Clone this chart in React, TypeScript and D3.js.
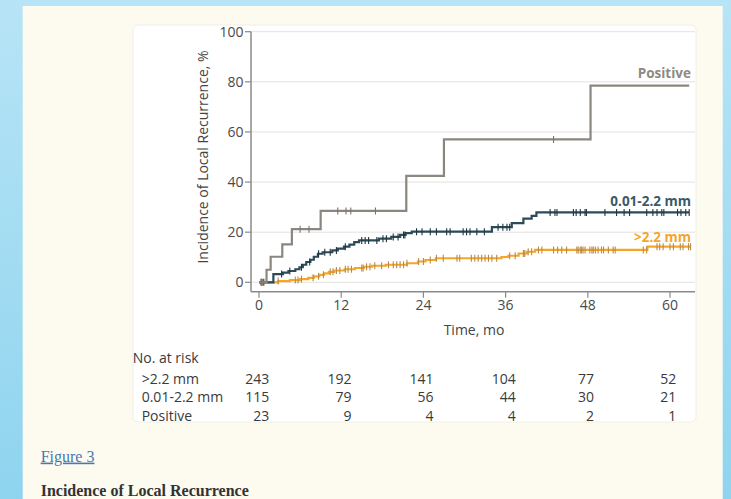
import React from "react";
import * as d3 from "d3";

// Cumulative incidence steps: [month, percent]
const positiveSteps: [number, number][] = [
  [0, 0], [1.1, 5.0], [1.7, 10.2], [3.4, 15.1], [4.8, 21.2], [9.0, 28.5],
  [21.5, 42.5], [27.0, 57.0], [48.4, 78.5], [62.8, 78.5],
];
const midSteps: [number, number][] = [
  [0, 0], [2.1, 3.3], [3.5, 3.9], [4.3, 4.5], [5.3, 5.2], [5.9, 6.0], [6.4, 7.0],
  [6.9, 8.1], [7.5, 9.0], [8.0, 10.2], [8.6, 11.4], [9.3, 12.0], [10.7, 12.7],
  [11.5, 13.4], [12.4, 14.2], [13.2, 15.0], [13.9, 16.0], [14.6, 16.7],
  [17.5, 17.4], [19.3, 18.1], [20.6, 18.9], [21.4, 19.6], [22.3, 20.2],
  [34.0, 22.0], [36.9, 23.6], [38.6, 25.4], [39.8, 26.5], [40.5, 27.9], [62.8, 27.9],
];
const wideSteps: [number, number][] = [
  [0, 0], [2.8, 0.5], [4.5, 0.9], [6.0, 1.3], [7.2, 1.8], [8.0, 2.4], [8.8, 3.0],
  [9.5, 3.6], [10.2, 4.2], [11.0, 4.7], [12.5, 5.2], [14.0, 5.7], [15.3, 6.2],
  [16.5, 6.6], [18.5, 7.0], [21.6, 7.6], [23.2, 8.3], [24.3, 8.9], [25.8, 9.6],
  [35.4, 10.1], [36.4, 10.6], [37.9, 11.5], [39.1, 12.2], [40.3, 12.9],
  [56.7, 14.2], [63.0, 14.2],
];

// Censoring times, months
const positiveCensor = [0.4, 6.0, 7.3, 11.5, 12.7, 13.4, 17.0, 43.0];
const midCensor = [
  0.3, 0.7, 3.3, 4.5, 6.2, 7.4, 8.7, 9.6, 10.4, 11.3, 12.6, 15.0, 15.5, 16.0, 17.2,
  18.1, 18.6, 19.6, 20.3, 21.1, 21.3, 23.0, 23.8, 25.0, 25.9, 27.4, 27.9, 29.8,
  30.3, 30.8, 31.8, 32.9, 34.9, 35.6, 36.2, 36.6, 42.5, 43.2, 43.5, 45.9, 46.3,
  46.9, 47.6, 47.8, 50.5, 52.2, 53.3, 54.1, 56.6, 57.5, 58.1, 58.8, 59.1, 61.1,
  61.6, 62.3, 62.8,
];
const wideCensor = [
  0.5, 2.8, 5.3, 5.7, 6.2, 7.9, 8.7, 9.4, 10.4, 10.8, 11.3, 11.8, 12.6, 13.0, 13.5,
  15.0, 15.2, 15.7, 16.2, 16.9, 17.9, 18.9, 19.6, 20.1, 20.6, 21.1, 21.6, 23.3,
  24.0, 25.0, 25.9, 26.9, 28.9, 29.3, 31.0, 31.5, 32.0, 32.5, 33.0, 33.5, 34.0,
  34.7, 36.6, 37.4, 38.6, 38.8, 39.3, 39.8, 40.8, 41.3, 43.0, 43.6, 44.2, 44.9,
  46.4, 46.6, 46.9, 47.1, 47.3, 47.6, 48.3, 48.6, 48.8, 49.1, 49.5, 50.0, 50.3,
  51.0, 51.7, 52.0, 56.1, 56.6, 58.1, 58.5, 59.0, 60.0, 60.5, 61.5, 61.9, 62.7, 63.0,
];

const xTicks = [0, 12, 24, 36, 48, 60];
const yTicks = [0, 20, 40, 60, 80, 100];

const riskGroups = [">2.2 mm", "0.01-2.2 mm", "Positive"];
const riskWide = [243, 192, 141, 104, 77, 52];
const riskMid = [115, 79, 56, 44, 30, 21];
const riskPositive = [23, 9, 4, 4, 2, 1];

const SANS = "'Open Sans', 'DejaVu Sans', sans-serif";
const SERIF = "'Liberation Serif', 'DejaVu Serif', serif";

function valueAt(steps: [number, number][], t: number) {
  let v = 0;
  for (const [st, sv] of steps) {
    if (st <= t) v = sv;
  }
  return v;
}

export default function App() {
  const x = d3.scaleLinear().domain([0, 60]).range([259, 670]);
  const y = d3.scaleLinear().domain([0, 100]).range([282.3, 31.7]);
  const plotLeft = 251;
  const plotRight = 695;
  const plotTop = 31.7;
  const axisY = 291.7;

  const line = d3
    .line<[number, number]>()
    .x((d) => x(d[0]))
    .y((d) => y(d[1]))
    .curve(d3.curveStepAfter);

  const series = [
    { steps: wideSteps, censor: wideCensor, color: "#f4a629", tick: "#b98a45" },
    { steps: midSteps, censor: midCensor, color: "#2c4a57", tick: "#1f3640" },
    { steps: positiveSteps, censor: positiveCensor, color: "#8b8680", tick: "#7a756f" },
  ];

  const riskRows = [riskWide, riskMid, riskPositive];
  const colWidths = xTicks.map((_, i) =>
    Math.max(...riskRows.map((r) => String(r[i]).length))
  );

  return (
    <svg
      width={731}
      height={499}
      style={{ position: "absolute", left: 0, top: 0 }}
      xmlns="http://www.w3.org/2000/svg"
    >
      <defs>
        <linearGradient id="bg" x1="0" y1="0" x2="0" y2="1">
          <stop offset="0" stopColor="#b7e4f6" />
          <stop offset="1" stopColor="#8fd4ef" />
        </linearGradient>
      </defs>
      <rect x={0} y={0} width={731} height={499} fill="url(#bg)" />
      <rect x={22.7} y={6} width={700} height={500} fill="#fdfbef" />
      <rect
        x={133}
        y={25}
        width={563}
        height={397}
        rx={5}
        fill="#ffffff"
        stroke="#f0efe6"
      />

      {/* gridlines */}
      {yTicks.map((t) => (
        <line
          key={"g" + t}
          x1={plotLeft}
          x2={plotRight}
          y1={y(t)}
          y2={y(t)}
          stroke="#e2e2e2"
          strokeWidth={1}
        />
      ))}

      {/* axes */}
      <line x1={plotLeft} x2={plotLeft} y1={plotTop} y2={axisY} stroke="#8a8a8a" strokeWidth={1.5} />
      <line x1={plotLeft} x2={plotRight} y1={axisY} y2={axisY} stroke="#8a8a8a" strokeWidth={1.5} />
      {yTicks.map((t) => (
        <g key={"yt" + t}>
          <line x1={plotLeft - 6} x2={plotLeft} y1={y(t)} y2={y(t)} stroke="#8a8a8a" strokeWidth={1.2} />
          <text
            x={243.5}
            y={y(t)}
            dy="0.35em"
            textAnchor="end"
            fontFamily={SANS}
            fontSize={14}
            fill="#4a4a4a"
          >
            {t}
          </text>
        </g>
      ))}
      {xTicks.map((t) => (
        <g key={"xt" + t}>
          <line x1={x(t)} x2={x(t)} y1={axisY} y2={axisY + 6} stroke="#8a8a8a" strokeWidth={1.2} />
          <text
            x={x(t)}
            y={305.5}
            dy="0.35em"
            textAnchor="middle"
            fontFamily={SANS}
            fontSize={14}
            fill="#4a4a4a"
          >
            {t}
          </text>
        </g>
      ))}
      <text
        transform={`translate(203.5,157) rotate(-90)`}
        dy="0.35em"
        textAnchor="middle"
        fontFamily={SANS}
        fontSize={14}
        fill="#444"
      >
        Incidence of Local Recurrence, %
      </text>
      <text
        x={474}
        y={330.5}
        dy="0.35em"
        textAnchor="middle"
        fontFamily={SANS}
        fontSize={14}
        fill="#444"
      >
        Time, mo
      </text>

      {/* curves */}
      {series.map((s, i) => (
        <g key={"s" + i}>
          <path d={line(s.steps) ?? ""} fill="none" stroke={s.color} strokeWidth={2.2} />
          {s.censor.map((c, j) => (
            <line
              key={j}
              x1={x(c)}
              x2={x(c)}
              y1={y(valueAt(s.steps, c)) - 3.5}
              y2={y(valueAt(s.steps, c)) + 3.5}
              stroke={s.tick}
              strokeWidth={1.1}
            />
          ))}
        </g>
      ))}

      {/* curve labels */}
      <text x={691} y={73.3} dy="0.35em" textAnchor="end" fontFamily={SANS} fontSize={13.5} fontWeight={700} fill="#8e8982">
        Positive
      </text>
      <text x={691} y={201.7} dy="0.35em" textAnchor="end" fontFamily={SANS} fontSize={13.5} fontWeight={700} fill="#3b5967">
        0.01-2.2 mm
      </text>
      <text x={691} y={237.3} dy="0.35em" textAnchor="end" fontFamily={SANS} fontSize={13.5} fontWeight={700} fill="#f4a629">
        {">2.2 mm"}
      </text>

      {/* number at risk */}
      <text x={132.7} y={358.3} dy="0.35em" fontFamily={SANS} fontSize={14} fill="#3a3a3a">
        No. at risk
      </text>
      {riskGroups.map((g, r) => (
        <g key={"r" + r}>
          <text x={141.7} y={379 + r * 18.5} dy="0.35em" fontFamily={SANS} fontSize={14} fill="#3a3a3a">
            {g}
          </text>
          {riskRows[r].map((v, i) => (
            <text
              key={i}
              x={x(xTicks[i]) + colWidths[i] * 3.9 - 1.5}
              y={379 + r * 18.5}
              dy="0.35em"
              textAnchor="end"
              fontFamily={SANS}
              fontSize={14}
              fill="#3a3a3a"
            >
              {v}
            </text>
          ))}
        </g>
      ))}

      {/* caption */}
      <text
        x={40.7}
        y={456}
        dy="0.35em"
        fontFamily={SERIF}
        fontSize={16}
        fill="#4a77b1"
        textDecoration="underline"
      >
        Figure 3
      </text>
      <text
        x={40.7}
        y={496}
        fontFamily={SERIF}
        fontSize={16}
        fontWeight={700}
        fill="#333"
      >
        Incidence of Local Recurrence
      </text>
    </svg>
  );
}
